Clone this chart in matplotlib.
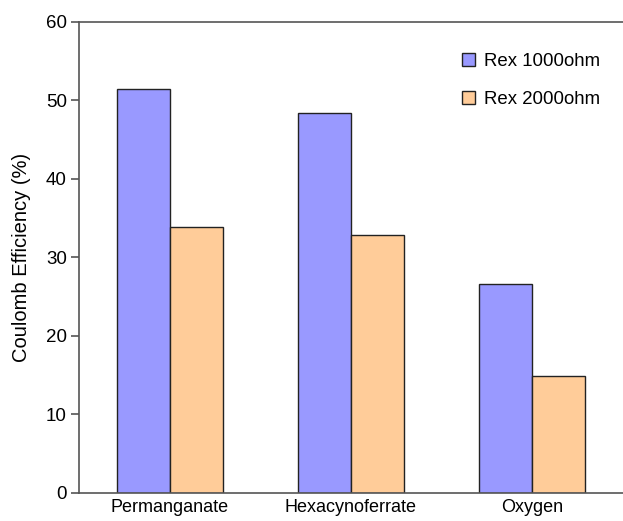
import matplotlib
matplotlib.use('Agg')
import matplotlib.pyplot as plt
import numpy as np

plt.rcParams['font.family'] = ['Liberation Sans', 'DejaVu Sans']

categories = ['Permanganate', 'Hexacynoferrate', 'Oxygen']
rex_1000 = [51.4, 48.4, 26.6]
rex_2000 = [33.8, 32.8, 14.9]
series_names = ['Rex 1000ohm', 'Rex 2000ohm']

fig = plt.figure(figsize=(6.23, 5.21), dpi=100)
ax = fig.add_axes([0.1276, 0.0547, 0.8716, 0.9031])

x = np.arange(len(categories))
w = 0.293
ax.bar(x - w / 2, rex_1000, w, color='#9999FF', edgecolor='#222222', linewidth=1.0, label=series_names[0])
ax.bar(x + w / 2, rex_2000, w, color='#FFCC99', edgecolor='#222222', linewidth=1.0, label=series_names[1])

ax.set_xlim(-0.5, 2.5)
ax.set_ylim(0, 60)
ax.set_yticks(range(0, 61, 10))
ax.set_xticks(x)
ax.set_xticklabels(categories, fontsize=13)
ax.tick_params(axis='x', length=0, pad=5)
ax.tick_params(axis='y', labelsize=13.5, length=6, width=1.2, color='#555555', direction='out', pad=3)
ax.set_ylabel('Coulomb Efficiency (%)', fontsize=14.5, labelpad=11)

for side in ['left', 'top', 'bottom']:
    ax.spines[side].set_color('#555555')
    ax.spines[side].set_linewidth(1.2)
ax.spines['right'].set_visible(False)

ax.legend(loc='upper right', bbox_to_anchor=(0.99, 0.97), frameon=False, fontsize=13.4,
          handlelength=0.7, handleheight=0.7, handletextpad=0.5, labelspacing=1.15)

fig.savefig('out.png', dpi=100)
